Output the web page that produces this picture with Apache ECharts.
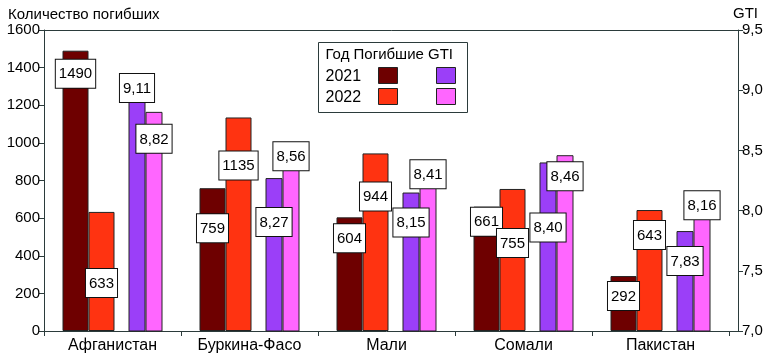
<!DOCTYPE html>
<html>
<head>
<meta charset="utf-8">
<script src="https://cdn.jsdelivr.net/npm/echarts@6/dist/echarts.min.js"></script>
<style>
html,body{margin:0;padding:0;background:#fff;}
#chart{width:768px;height:357px;}
</style>
</head>
<body>
<div id="chart"></div>
<script>
const categories = ['Афганистан', 'Буркина-Фасо', 'Мали', 'Сомали', 'Пакистан'];
const deaths2021 = [1490, 759, 604, 661, 292];
const deaths2022 = [633, 1135, 944, 755, 643];
const gti2021 = [9.11, 8.27, 8.15, 8.40, 7.83];
const gti2022 = [8.82, 8.56, 8.41, 8.46, 8.16];
const yearLabels = ['2021', '2022'];

// label vertical shifts (px from bar top), styling only
const labelShift = {
  d21: [9, 26, 7, 1, 6],
  d22: [57, 34, 29, 40, 11],
  g21: [-3, 30, 16, 51, 16],
  g22: [13, -1, -1, 7, 0]
};

const FONT = "'Liberation Sans', Arial, sans-serif";
const AXIS = '#2b3b3b';
const C = { d21: '#6e0000', d22: '#ff3311', g21: '#9b3ff8', g22: '#ff66ff' };

const G = { left: 44, right: 39, top: 30, bottom: 26 };
const RIGHT_AXIS_OFFSET = 9;

const labelStyle = {
  show: true,
  align: 'center',
  verticalAlign: 'top',
  color: '#000',
  fontFamily: FONT,
  fontSize: 15,
  backgroundColor: '#fff',
  borderColor: '#111',
  borderWidth: 1,
  padding: [7, 3, 6, 3]
};

function comma(v, d) { return v.toFixed(d).replace('.', ','); }

function mk(values, shifts) {
  return values.map((v, i) => ({ value: v, label: { position: ['50%', shifts[i]] } }));
}

function barSeries(name, values, shifts, color, width, yIdx, fmt) {
  return {
    name: name,
    type: 'bar',
    yAxisIndex: yIdx,
    barWidth: width,
    barGap: '0%',
    data: mk(values, shifts),
    itemStyle: { color: color, borderColor: '#222', borderWidth: 1 },
    label: Object.assign({}, labelStyle, { formatter: fmt }),
    animation: false
  };
}

const W = 768, H = 357;
const plotRight = W - G.right;
const axisRightX = plotRight + RIGHT_AXIS_OFFSET;
const plotBottom = H - G.bottom;

const chart = echarts.init(document.getElementById('chart'));
const option = {
  animation: false,
  backgroundColor: '#fff',
  title: {
    text: 'Количество погибших',
    left: 3, top: 2,
    textStyle: { fontFamily: FONT, fontSize: 15, fontWeight: 'normal', color: '#000' }
  },
  grid: { left: G.left, right: G.right, top: G.top, bottom: G.bottom, show: false },
  xAxis: {
    type: 'category',
    data: categories,
    axisLine: { lineStyle: { color: AXIS } },
    axisTick: { show: true, length: 5, lineStyle: { color: AXIS } },
    axisLabel: { color: '#000', fontFamily: FONT, fontSize: 16, margin: 7 }
  },
  yAxis: [
    {
      type: 'value', min: 0, max: 1600, interval: 200,
      axisLine: { show: true, lineStyle: { color: AXIS } },
      axisTick: { show: true, length: 5, lineStyle: { color: AXIS } },
      splitLine: { show: false },
      axisLabel: { color: '#000', fontFamily: FONT, fontSize: 15, margin: 4, formatter: v => String(v) }
    },
    {
      type: 'value', min: 7, max: 9.5, interval: 0.5, offset: RIGHT_AXIS_OFFSET,
      name: 'GTI', nameLocation: 'end', nameGap: 9,
      nameTextStyle: { color: '#000', fontFamily: FONT, fontSize: 15, align: 'left', padding: [0, 0, 0, -5] },
      axisLine: { show: true, lineStyle: { color: AXIS } },
      axisTick: { show: true, length: 5, lineStyle: { color: AXIS } },
      splitLine: { show: false },
      axisLabel: { color: '#000', fontFamily: FONT, fontSize: 15, margin: 4, formatter: v => comma(v, 1) }
    }
  ],
  series: [
    barSeries('Погибшие 2021', deaths2021, labelShift.d21, C.d21, 26, 0, p => String(p.value)),
    barSeries('Погибшие 2022', deaths2022, labelShift.d22, C.d22, 26, 0, p => String(p.value)),
    { name: 'spacer', type: 'bar', yAxisIndex: 0, barWidth: 14, barGap: '0%', data: categories.map(() => null), itemStyle: { color: 'transparent' }, silent: true },
    barSeries('GTI 2021', gti2021, labelShift.g21, C.g21, 17, 1, p => comma(p.value, 2)),
    barSeries('GTI 2022', gti2022, labelShift.g22, C.g22, 17, 1, p => comma(p.value, 2))
  ],
  graphic: [
    { type: 'line', shape: { x1: G.left, y1: G.top + 0.5, x2: axisRightX + 0.5, y2: G.top + 0.5 }, style: { stroke: AXIS, lineWidth: 1 }, z: 10 },
    { type: 'line', shape: { x1: plotRight, y1: plotBottom + 0.5, x2: axisRightX + 0.5, y2: plotBottom + 0.5 }, style: { stroke: AXIS, lineWidth: 1 }, z: 10 },
    {
      type: 'group', left: 318, top: 42,
      children: [
        { type: 'rect', shape: { x: 0, y: 0, width: 149, height: 70 }, style: { fill: '#fff', stroke: AXIS, lineWidth: 1 } },
        { type: 'text', x: 7, y: 12, style: { text: 'Год Погибшие GTI', font: '15px ' + FONT, fill: '#000', textVerticalAlign: 'middle' } },
        { type: 'text', x: 7, y: 34, style: { text: yearLabels[0], font: '16px ' + FONT, fill: '#000', textVerticalAlign: 'middle' } },
        { type: 'text', x: 7, y: 55, style: { text: yearLabels[1], font: '16px ' + FONT, fill: '#000', textVerticalAlign: 'middle' } },
        { type: 'rect', shape: { x: 60, y: 25, width: 19, height: 16 }, style: { fill: C.d21, stroke: '#222', lineWidth: 1 } },
        { type: 'rect', shape: { x: 118, y: 25, width: 19, height: 16 }, style: { fill: C.g21, stroke: '#222', lineWidth: 1 } },
        { type: 'rect', shape: { x: 60, y: 46, width: 19, height: 16 }, style: { fill: C.d22, stroke: '#222', lineWidth: 1 } },
        { type: 'rect', shape: { x: 118, y: 46, width: 19, height: 16 }, style: { fill: C.g22, stroke: '#222', lineWidth: 1 } }
      ]
    }
  ]
};
chart.setOption(option);
</script>
</body>
</html>
